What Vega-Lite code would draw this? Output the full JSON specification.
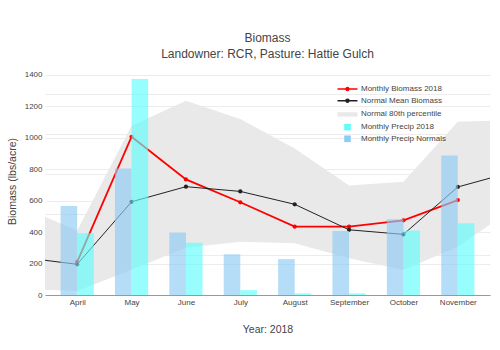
{
  "$schema": "https://vega.github.io/schema/vega-lite/v6.json",
  "width": 445,
  "height": 228,
  "autosize": {"type": "none"},
  "padding": {"left": 45, "top": 67, "right": 10, "bottom": 55},
  "background": "white",
  "config": {
    "font": "Liberation Sans",
    "view": {"stroke": null},
    "axis": {
      "labelFont": "Liberation Sans",
      "labelFontSize": 8,
      "labelColor": "#444",
      "titleFont": "Liberation Sans",
      "titleFontSize": 10.5,
      "titleFontWeight": "normal",
      "titleColor": "#444",
      "ticks": false,
      "domain": false,
      "gridColor": "#ececec",
      "gridWidth": 1,
      "labelOverlap": false,
      "labelSeparation": 0
    },
    "legend": {
      "labelFont": "Liberation Sans",
      "labelFontSize": 8,
      "labelColor": "#444",
      "symbolSize": 100,
      "symbolOpacity": 1
    }
  },
  "title": {
    "text": ["Biomass", "Landowner: RCR, Pasture: Hattie Gulch"],
    "fontSize": 12,
    "fontWeight": "normal",
    "color": "#444",
    "lineHeight": 16,
    "anchor": "middle",
    "offset": 6.5,
    "font": "Liberation Sans"
  },
  "datasets": {
    "lines": [
      {"month": 4, "series": "Monthly Biomass 2018", "value": 211},
      {"month": 5, "series": "Monthly Biomass 2018", "value": 1005},
      {"month": 6, "series": "Monthly Biomass 2018", "value": 734},
      {"month": 7, "series": "Monthly Biomass 2018", "value": 589},
      {"month": 8, "series": "Monthly Biomass 2018", "value": 434},
      {"month": 9, "series": "Monthly Biomass 2018", "value": 434},
      {"month": 10, "series": "Monthly Biomass 2018", "value": 474},
      {"month": 11, "series": "Monthly Biomass 2018", "value": 603},
      {"month": 3, "series": "Normal Mean Biomass", "value": 238},
      {"month": 4, "series": "Normal Mean Biomass", "value": 195},
      {"month": 5, "series": "Normal Mean Biomass", "value": 592},
      {"month": 6, "series": "Normal Mean Biomass", "value": 688},
      {"month": 7, "series": "Normal Mean Biomass", "value": 658},
      {"month": 8, "series": "Normal Mean Biomass", "value": 576},
      {"month": 9, "series": "Normal Mean Biomass", "value": 414},
      {"month": 10, "series": "Normal Mean Biomass", "value": 385},
      {"month": 11, "series": "Normal Mean Biomass", "value": 686},
      {"month": 12, "series": "Normal Mean Biomass", "value": 781}
    ],
    "band": [
      {"month": 3, "series": "Normal 80th percentile", "lo": 40, "hi": 556},
      {"month": 4, "series": "Normal 80th percentile", "lo": 25, "hi": 410},
      {"month": 5, "series": "Normal 80th percentile", "lo": 160, "hi": 1075},
      {"month": 6, "series": "Normal 80th percentile", "lo": 300, "hi": 1234},
      {"month": 7, "series": "Normal 80th percentile", "lo": 338, "hi": 1117},
      {"month": 8, "series": "Normal 80th percentile", "lo": 328, "hi": 931},
      {"month": 9, "series": "Normal 80th percentile", "lo": 233, "hi": 696},
      {"month": 10, "series": "Normal 80th percentile", "lo": 159, "hi": 720},
      {"month": 11, "series": "Normal 80th percentile", "lo": 307, "hi": 1100},
      {"month": 12, "series": "Normal 80th percentile", "lo": 546, "hi": 1110}
    ],
    "precip2018": [
      {"month": 4, "series": "Monthly Precip 2018", "precip": 1.53},
      {"month": 5, "series": "Monthly Precip 2018", "precip": 5.36},
      {"month": 6, "series": "Monthly Precip 2018", "precip": 1.30},
      {"month": 7, "series": "Monthly Precip 2018", "precip": 0.12},
      {"month": 8, "series": "Monthly Precip 2018", "precip": 0.04},
      {"month": 9, "series": "Monthly Precip 2018", "precip": 0.04},
      {"month": 10, "series": "Monthly Precip 2018", "precip": 1.60},
      {"month": 11, "series": "Monthly Precip 2018", "precip": 1.78}
    ],
    "precipNormal": [
      {"month": 4, "series": "Monthly Precip Normals", "precip": 2.21},
      {"month": 5, "series": "Monthly Precip Normals", "precip": 3.14},
      {"month": 6, "series": "Monthly Precip Normals", "precip": 1.55},
      {"month": 7, "series": "Monthly Precip Normals", "precip": 1.01},
      {"month": 8, "series": "Monthly Precip Normals", "precip": 0.89},
      {"month": 9, "series": "Monthly Precip Normals", "precip": 1.59},
      {"month": 10, "series": "Monthly Precip Normals", "precip": 1.88},
      {"month": 11, "series": "Monthly Precip Normals", "precip": 3.46}
    ]
  },
  "layer": [
    {
      "layer": [
        {
          "data": {"name": "band"},
          "mark": {"type": "area", "clip": true, "color": "#e9e9e9"},
          "encoding": {
            "x": {
              "field": "month", "type": "quantitative",
              "scale": {"domain": [3.5, 11.5], "nice": false, "zero": false},
              "axis": {
                "title": "Year: 2018",
                "values": [4, 5, 6, 7, 8, 9, 10, 11],
                "labelExpr": "['','','','','April','May','June','July','August','September','October','November'][datum.value]",
                "grid": false,
                "domain": true,
                "domainColor": "#999",
                "domainWidth": 1.2,
                "labelPadding": 3,
                "titlePadding": 18,
                "labelOverlap": false
              }
            },
            "y": {
              "field": "hi", "type": "quantitative",
              "scale": {"domain": [0, 1448], "nice": false},
              "axis": {
                "title": "Biomass (lbs/acre)",
                "values": [0, 200, 400, 600, 800, 1000, 1200, 1400],
                "format": "d",
                "labelPadding": 3,
                "titlePadding": 7,
                "labelOverlap": false
              }
            },
            "y2": {"field": "lo"},
            "opacity": {
              "field": "series", "type": "nominal",
              "scale": {"domain": ["Normal 80th percentile"], "range": [1]},
              "legend": {
                "title": null,
                "orient": "none",
                "legendX": 297.5,
                "legendY": 42.4,
                "symbolType": "M-2,-0.44H2V0.44H-2Z",
                "symbolFillColor": "#e9e9e9",
                "symbolStrokeWidth": 0,
                "symbolStrokeColor": "transparent",
                "labelOffset": 8.5
              }
            }
          }
        },
        {
          "data": {"name": "lines"},
          "mark": {"type": "line", "clip": true},
          "encoding": {
            "x": {"field": "month", "type": "quantitative"},
            "y": {
              "field": "value", "type": "quantitative",
              "axis": {
                "title": "Biomass (lbs/acre)",
                "values": [0, 200, 400, 600, 800, 1000, 1200, 1400],
                "format": "d",
                "labelPadding": 3,
                "titlePadding": 7,
                "labelOverlap": false
              }
            },
            "color": {
              "field": "series", "type": "nominal",
              "scale": {
                "domain": ["Monthly Biomass 2018", "Normal Mean Biomass"],
                "range": ["#ff0000", "#222222"]
              },
              "legend": {
                "title": null,
                "orient": "none",
                "legendX": 296.5,
                "legendY": 16,
                "symbolType": "M-2,0H2M-0.3,0A0.3,0.3,0,1,1,0.3,0A0.3,0.3,0,1,1,-0.3,0Z",
                "symbolStrokeWidth": 1.5,
                "rowPadding": 0.7,
                "labelOffset": 7.5
              }
            },
            "strokeWidth": {
              "condition": {"test": "datum.series === 'Monthly Biomass 2018'", "value": 1.8},
              "value": 1
            }
          }
        },
        {
          "data": {"name": "lines"},
          "mark": {"type": "point", "filled": true, "opacity": 1, "size": 18, "clip": true},
          "encoding": {
            "x": {"field": "month", "type": "quantitative"},
            "y": {
              "field": "value", "type": "quantitative",
              "axis": {
                "title": "Biomass (lbs/acre)",
                "values": [0, 200, 400, 600, 800, 1000, 1200, 1400],
                "format": "d",
                "labelPadding": 3,
                "titlePadding": 7,
                "labelOverlap": false
              }
            },
            "color": {
              "field": "series", "type": "nominal",
              "legend": {
                "title": null,
                "orient": "none",
                "legendX": 296.5,
                "legendY": 16,
                "symbolType": "M-2,0H2M-0.3,0A0.3,0.3,0,1,1,0.3,0A0.3,0.3,0,1,1,-0.3,0Z",
                "symbolStrokeWidth": 1.5,
                "rowPadding": 0.7,
                "labelOffset": 7.5
              }
            }
          }
        }
      ]
    },
    {
      "layer": [
        {
          "data": {"name": "precipNormal"},
          "mark": {"type": "bar", "width": 16.6, "xOffset": -8.3, "opacity": 0.65},
          "encoding": {
            "x": {"field": "month", "type": "quantitative"},
            "y": {
              "field": "precip", "type": "quantitative",
              "scale": {"domain": [0, 5.66], "nice": false},
              "axis": {
                "orient": "right",
                "title": null,
                "labels": false,
                "values": [1, 2, 3, 4, 5],
                "grid": true
              }
            },
            "fill": {
              "field": "series", "type": "nominal",
              "scale": {
                "domain": ["Monthly Precip 2018", "Monthly Precip Normals"],
                "range": ["#5ffcfc", "#8ecbf5"]
              },
              "legend": {
                "title": null,
                "orient": "none",
                "legendX": 297.5,
                "legendY": 55.1,
                "symbolType": "M-0.66,-0.66H0.66V0.66H-0.66Z",
                "symbolStrokeWidth": 0,
                "symbolStrokeColor": "transparent",
                "rowPadding": 2.7,
                "labelOffset": 8.5
              }
            }
          }
        },
        {
          "data": {"name": "precip2018"},
          "mark": {"type": "bar", "width": 16.6, "xOffset": 8.3, "opacity": 0.65},
          "encoding": {
            "x": {"field": "month", "type": "quantitative"},
            "y": {"field": "precip", "type": "quantitative"},
            "fill": {
              "field": "series", "type": "nominal",
              "legend": {
                "title": null,
                "orient": "none",
                "legendX": 297.5,
                "legendY": 55.1,
                "symbolType": "M-0.66,-0.66H0.66V0.66H-0.66Z",
                "symbolStrokeWidth": 0,
                "symbolStrokeColor": "transparent",
                "rowPadding": 2.7,
                "labelOffset": 8.5
              }
            }
          }
        }
      ]
    }
  ],
  "resolve": {"scale": {"y": "independent"}, "axis": {"y": "independent"}}
}
